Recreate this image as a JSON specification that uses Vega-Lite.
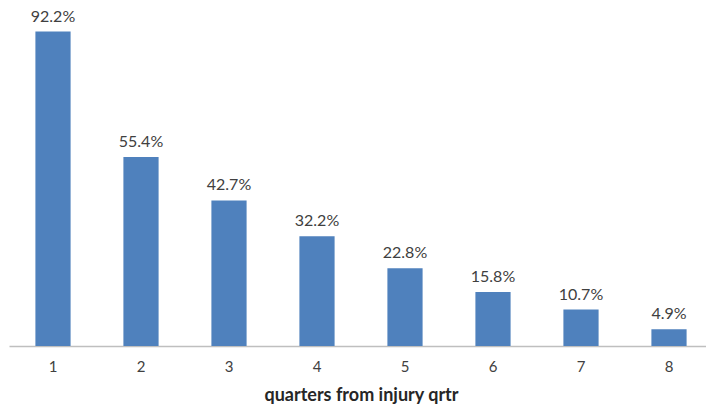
{
  "$schema": "https://vega.github.io/schema/vega-lite/v6.json",
  "autosize": "none",
  "width": 704,
  "height": 341,
  "padding": {"left": 9, "top": 5, "right": 0, "bottom": 60},
  "background": "white",
  "data": {"values": [
    {"q": "1", "v": 92.2, "label": "92.2%"},
    {"q": "2", "v": 55.4, "label": "55.4%"},
    {"q": "3", "v": 42.7, "label": "42.7%"},
    {"q": "4", "v": 32.2, "label": "32.2%"},
    {"q": "5", "v": 22.8, "label": "22.8%"},
    {"q": "6", "v": 15.8, "label": "15.8%"},
    {"q": "7", "v": 10.7, "label": "10.7%"},
    {"q": "8", "v": 4.9, "label": "4.9%"}
  ]},
  "config": {"view": {"stroke": null}, "font": "Lato"},
  "encoding": {
    "x": {"field": "q", "type": "nominal", "sort": null,
      "scale": {"paddingInner": 0.6, "paddingOuter": 0.3},
      "axis": {"title": "quarters from injury qrtr", "labelAngle": 0, "ticks": false,
        "domainColor": "#BFBFBF", "domainWidth": 1.5, "labelFont": "Lato", "labelFontSize": 15, "labelColor": "#404040",
        "labelPadding": 13, "titleFont": "Lato", "titleFontSize": 18, "titleFontWeight": "bold", "titleColor": "#262626", "titlePadding": 12}},
    "y": {"field": "v", "type": "quantitative", "scale": {"domain": [0, 100]}, "axis": null}
  },
  "layer": [
    {"mark": {"type": "bar", "color": "#4F81BD"}},
    {"mark": {"type": "text", "dy": -15, "fontSize": 16, "color": "#404040", "font": "Lato"},
     "encoding": {"text": {"field": "label"}}}
  ]
}
